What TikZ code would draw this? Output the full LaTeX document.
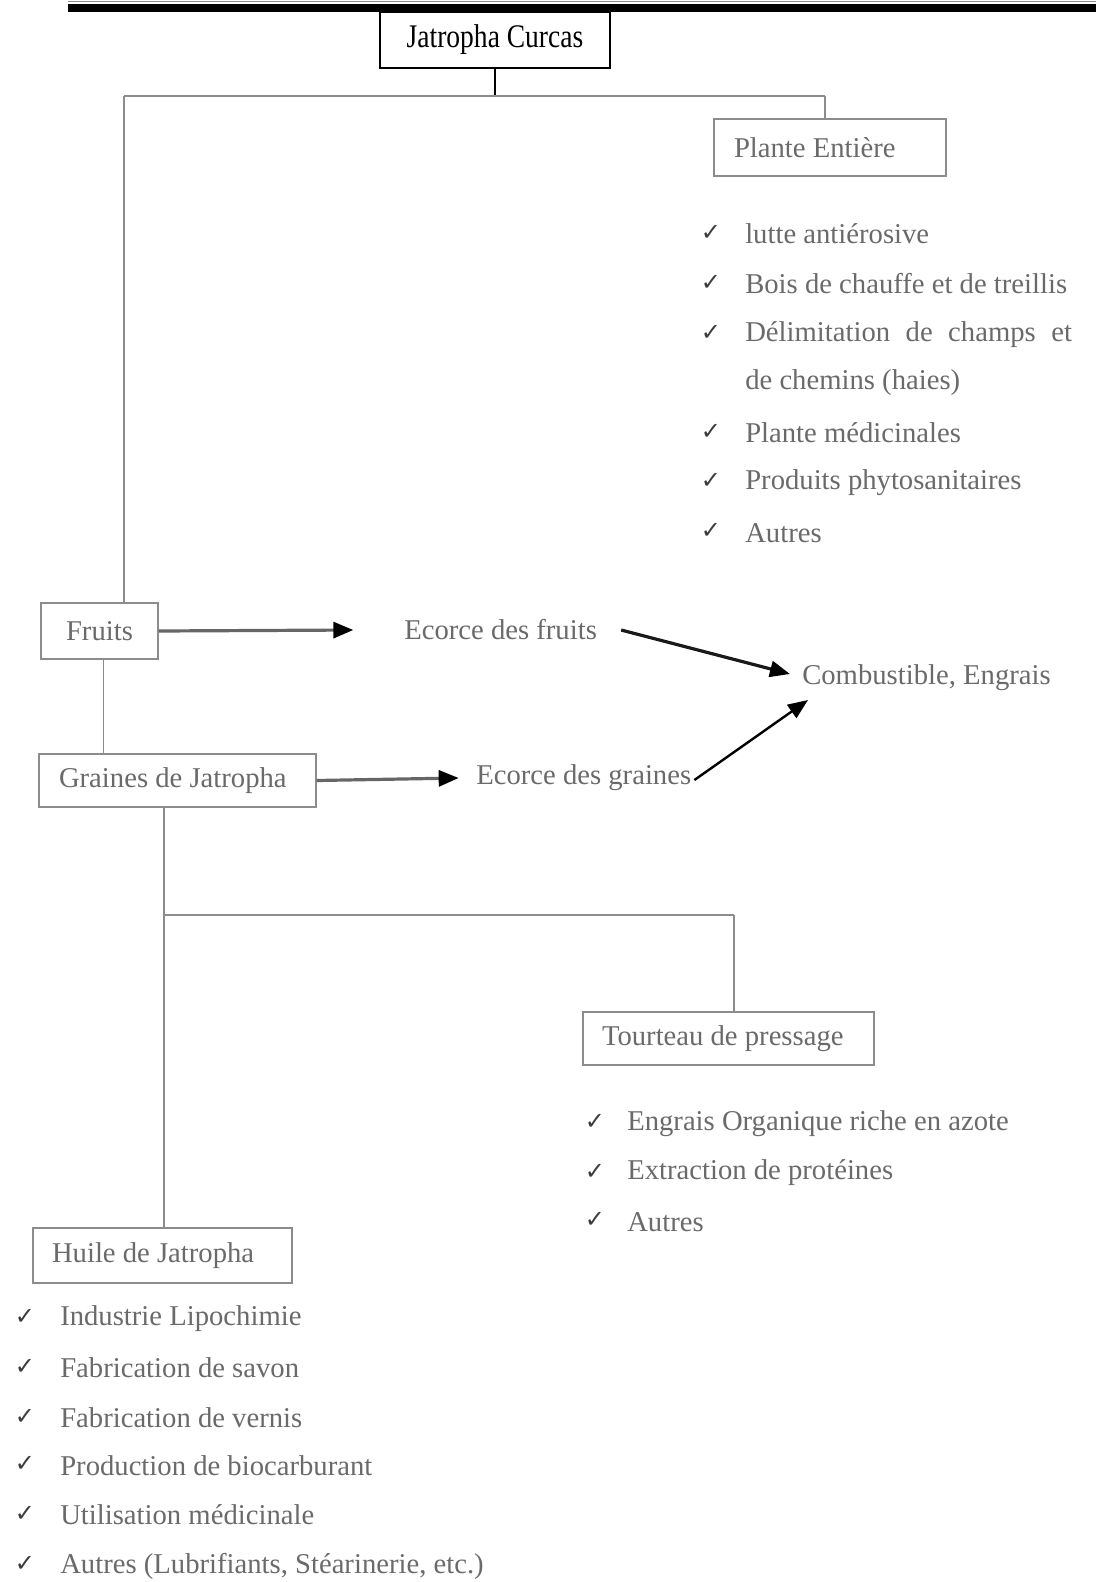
\documentclass[tikz,border=0pt]{standalone}
\usepackage{fontspec}
\setmainfont{Liberation Serif}
\newfontfamily\symfont{DejaVu Sans}
\usetikzlibrary{arrows.meta,calc}
\definecolor{txtgray}{HTML}{6A6A6A}
\definecolor{linegray}{HTML}{8C8C8C}
\definecolor{tickgray}{HTML}{3C3C3C}
\begin{document}
\begin{tikzpicture}[x=0.75pt,y=-0.75pt,
  bodyfont/.style={font=\fontsize{21.5}{25}\selectfont},
  titlebox/.style={draw=black, line width=1.6pt, minimum width=172.5pt,
    minimum height=42pt, inner sep=0pt, bodyfont},
  catbox/.style={draw=linegray, line width=0.9pt, inner ysep=0pt,
    text=txtgray, bodyfont},
  item/.style={text=txtgray, inner sep=0pt, anchor=west, bodyfont},
  tick/.style={text=tickgray, inner sep=0pt, font=\symfont\fontsize{18}{18}\selectfont},
  link/.style={draw=linegray, line width=1.1pt},
  flow/.style={line width=2.4pt, -{Triangle[length=15pt,width=12pt,color=black]}},
]
\useasboundingbox (0,0) rectangle (1096,1582);
\fill[white] (0,0) rectangle (1096,1582);

% page rules at the top
\draw[linegray, line width=0.8pt] (68,1.5) -- (1096,1.5);
\fill[black] (68,4.3) rectangle (1096,11.7);

% main boxes
\node[titlebox] (jc) at (495,40) {\scalebox{0.96}[1.15]{Jatropha Curcas}};
\node[catbox, minimum height=42.75pt, inner xsep=15pt]
  (pe) at (830,147.5) {\makebox[144pt][l]{Plante Entière}};
\node[catbox, minimum width=87.75pt, minimum height=42pt, inner xsep=0pt]
  (fr) at (99.5,631) {Fruits};
\node[catbox, minimum height=39.75pt, inner xsep=15pt]
  (gr) at (177.5,780.5) {\makebox[177.75pt][l]{Graines de Jatropha}};
\node[catbox, minimum height=39.75pt, inner xsep=14.25pt]
  (to) at (728.5,1038.5) {\makebox[189.75pt][l]{Tourteau de pressage}};
\node[catbox, minimum height=41.25pt, inner xsep=14.25pt]
  (hu) at (162.5,1255.5) {\makebox[165.75pt][l]{Huile de Jatropha}};

% by-products
\node[item] (ecf) at (404,630) {Ecorce des fruits};
\node[item] (ecg) at (476,778) {Ecorce des graines};
\node[item] (comb) at (802,678) {Combustible, Engrais};

% uses of the whole plant
\node[tick] (pt1) at (711,233) {✓};
\node[item] (p1) at (745,234) {lutte antiérosive};
\node[tick] (pt2) at (711,283) {✓};
\node[item] (p2) at (745,284) {Bois de chauffe et de treillis};
\node[tick] (pt3) at (711,333) {✓};
\node[item] (p3) at (745,335) {\makebox[245pt][s]{Délimitation\hfill de\hfill champs\hfill et}};
\node[item] (p3b) at (745,383) {de chemins (haies)};
\node[tick] (pt4) at (711,432) {✓};
\node[item] (p4) at (745,433) {Plante médicinales};
\node[tick] (pt5) at (711,481) {✓};
\node[item] (p5) at (745,483) {Produits phytosanitaires};
\node[tick] (pt6) at (711,531) {✓};
\node[item] (p6) at (745,533) {Autres};

% uses of the press cake
\node[tick] (tt1) at (595,1122) {✓};
\node[item] (t1) at (627,1124) {Engrais Organique riche en azote};
\node[tick] (tt2) at (595,1172) {✓};
\node[item] (t2) at (627,1173) {Extraction de protéines};
\node[tick] (tt3) at (595,1220) {✓};
\node[item] (t3) at (627,1222) {Autres};

% uses of the oil
\node[tick] (ht1) at (25,1317) {✓};
\node[item] (h1) at (60,1319) {Industrie Lipochimie};
\node[tick] (ht2) at (25,1367) {✓};
\node[item] (h2) at (60,1368) {Fabrication de savon};
\node[tick] (ht3) at (25,1417) {✓};
\node[item] (h3) at (60,1418) {Fabrication de vernis};
\node[tick] (ht4) at (25,1464) {✓};
\node[item] (h4) at (60,1466) {Production de biocarburant};
\node[tick] (ht5) at (25,1514) {✓};
\node[item] (h5) at (60,1515) {Utilisation médicinale};
\node[tick] (ht6) at (25,1564) {✓};
\node[item] (h6) at (60,1566) {Autres (Lubrifiants, Stéarinerie, etc.)};

% branching tree
\coordinate (top) at (495,96);
\coordinate (lbr) at (124,96);
\coordinate (rbr) at (825,96);
\coordinate (gbr) at (164,915);
\coordinate (tbr) at (734,915);
\draw[black, line width=1pt] (jc.south) -- (top);
\draw[link] (lbr) -- (rbr);
\draw[link] (lbr) -- (lbr |- fr.north);
\draw[link] (rbr) -- (rbr |- pe.north);
\draw[link] ([xshift=3]fr.south) -- ([xshift=3]fr.south |- gr.north);
\draw[link] (gbr |- gr.south) -- (gbr |- hu.north);
\draw[link] (gbr) -- (tbr);
\draw[link] (tbr) -- (tbr |- to.north);

% flows to by-products
\draw[flow, draw=black!60] (fr.east) -- ([xshift=-38]ecf.west);
\draw[flow, draw=black!60] (gr.east) -- ([xshift=-13]ecg.west);
\draw[flow, draw=black!90] ([shift={(24,0)}]ecf.east) -- ([shift={(-12,-4)}]comb.west);
\draw[flow, line width=1.8pt, draw=black] ([shift={(3,2)}]ecg.east) -- ([shift={(6,22)}]comb.west);
\end{tikzpicture}
\end{document}
